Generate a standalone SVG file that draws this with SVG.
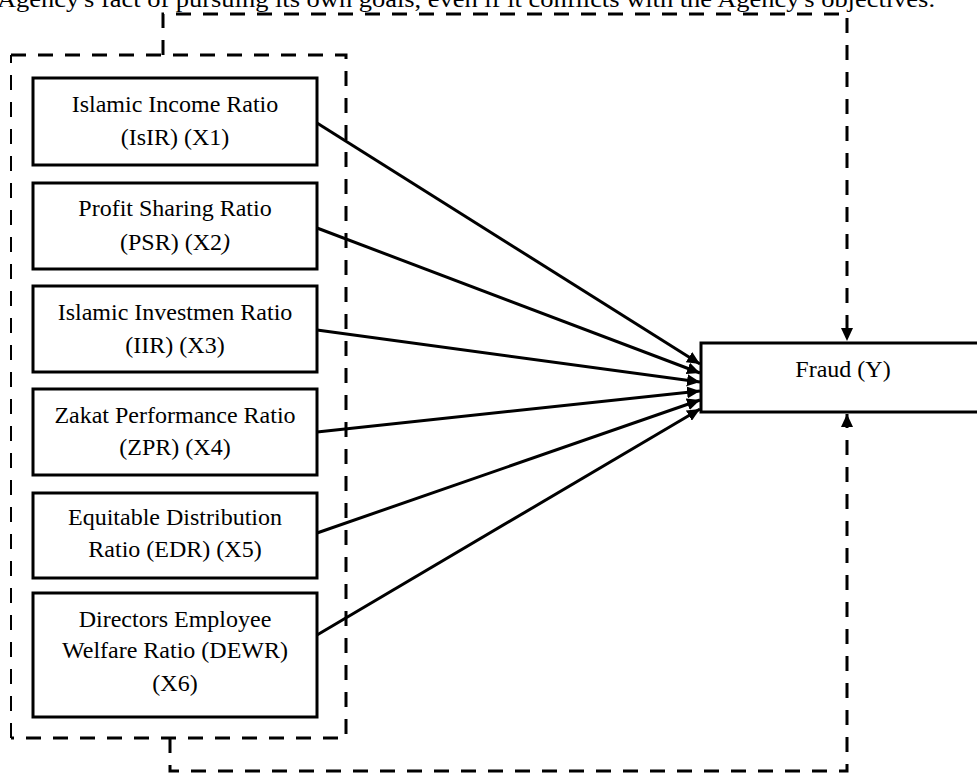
<svg xmlns="http://www.w3.org/2000/svg" width="977" height="773" viewBox="0 0 977 773">
<style>
.box{fill:#fff;stroke:#000;stroke-width:3}
.t{font-family:"Liberation Serif","Times New Roman",serif;font-size:24px;fill:#000;text-anchor:middle}
.solid{stroke:#000;stroke-width:3;fill:none}
.dash{stroke:#000;stroke-width:3;fill:none;stroke-dasharray:15 12}
</style>
<defs>
<marker id="ah" markerUnits="userSpaceOnUse" markerWidth="14" markerHeight="12" refX="13" refY="6" orient="auto">
<path d="M0,0 L13,6 L0,12 z" fill="#000"/>
</marker>
</defs>
<rect width="977" height="773" fill="#fff"/>
<text x="-3" y="7" font-family="Liberation Serif, Times New Roman, serif" font-size="23" textLength="938" lengthAdjust="spacingAndGlyphs">Agency's fact of pursuing its own goals, even if it conflicts with the Agency's objectives.</text>

<g id="group-frame">
<path class="dash" d="M11,55 H346 V738 H11"/>
<path d="M11,738 V55" stroke="#000" stroke-width="2" fill="none" stroke-dasharray="15 12"/>
</g>

<g id="connectors">
<line class="solid" x1="317" y1="123" x2="700" y2="364" marker-end="url(#ah)"/>
<line class="solid" x1="317" y1="228" x2="700" y2="373" marker-end="url(#ah)"/>
<line class="solid" x1="317" y1="330" x2="700" y2="382" marker-end="url(#ah)"/>
<line class="solid" x1="317" y1="432" x2="700" y2="391" marker-end="url(#ah)"/>
<line class="solid" x1="317" y1="533" x2="700" y2="400" marker-end="url(#ah)"/>
<line class="solid" x1="317" y1="635" x2="700" y2="409" marker-end="url(#ah)"/>
<path class="dash" d="M163,55 V14 H847 V341" marker-end="url(#ah)"/>
<path class="dash" d="M170,738 V771 H847 V414" marker-end="url(#ah)"/>
</g>

<g id="x1">
<rect class="box" x="33" y="78" width="284" height="87"/>
<text class="t" x="175" y="112">Islamic Income Ratio</text>
<text class="t" x="175" y="145">(IsIR) (X1)</text>
</g>
<g id="x2">
<rect class="box" x="33" y="183" width="284" height="86"/>
<text class="t" x="175" y="216">Profit Sharing Ratio</text>
<text class="t" x="175" y="250">(PSR) (X2<tspan font-style="italic">)</tspan></text>
</g>
<g id="x3">
<rect class="box" x="33" y="286" width="284" height="86"/>
<text class="t" x="175" y="320">Islamic Investmen Ratio</text>
<text class="t" x="175" y="353">(IIR) (X3)</text>
</g>
<g id="x4">
<rect class="box" x="33" y="389" width="284" height="86"/>
<text class="t" x="175" y="423">Zakat Performance Ratio</text>
<text class="t" x="175" y="455">(ZPR) (X4)</text>
</g>
<g id="x5">
<rect class="box" x="33" y="493" width="284" height="85"/>
<text class="t" x="175" y="525">Equitable Distribution</text>
<text class="t" x="175" y="557">Ratio (EDR) (X5)</text>
</g>
<g id="x6">
<rect class="box" x="33" y="593" width="284" height="124"/>
<text class="t" x="175" y="627">Directors Employee</text>
<text class="t" x="175" y="658">Welfare Ratio (DEWR)</text>
<text class="t" x="175" y="691">(X6)</text>
</g>
<g id="y">
<rect class="box" x="701" y="343" width="290" height="69"/>
<text class="t" x="843" y="377">Fraud (Y)</text>
</g>
</svg>
